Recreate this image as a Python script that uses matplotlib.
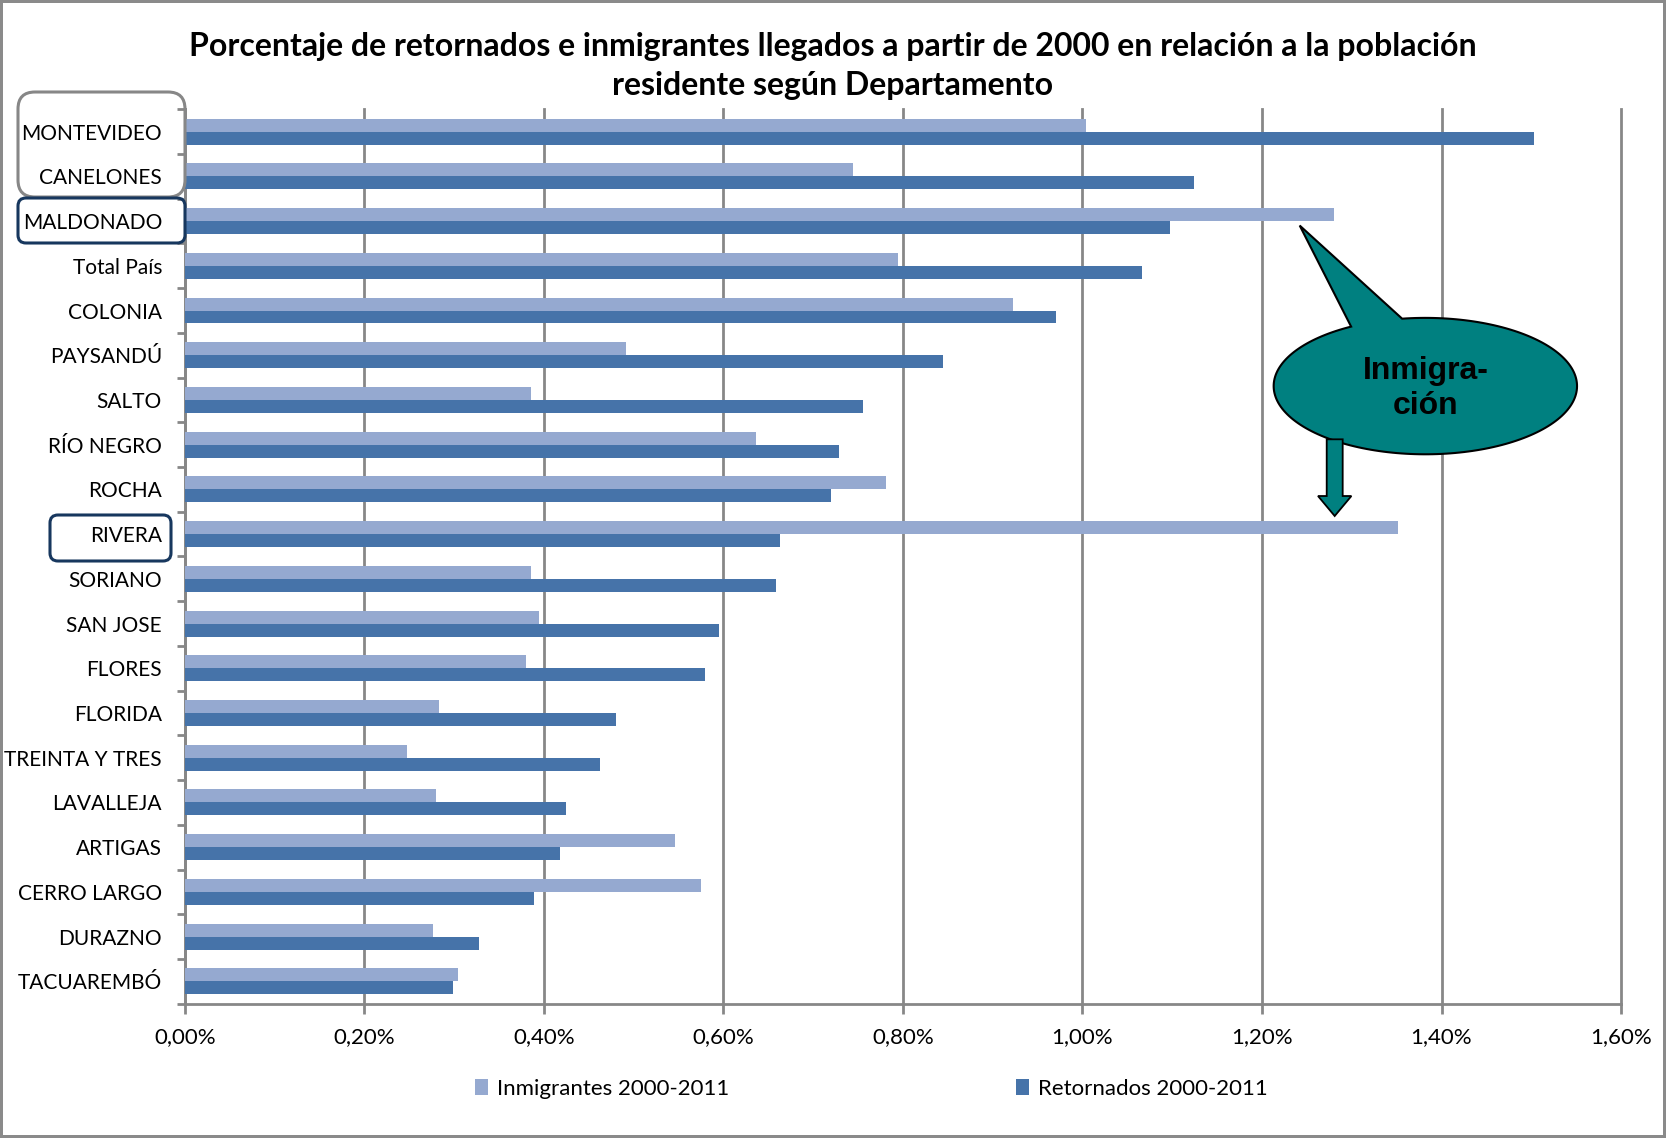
import numpy as np
import matplotlib
matplotlib.use('Agg')
import matplotlib.pyplot as plt
from matplotlib.patches import Polygon, FancyArrow, FancyBboxPatch
from matplotlib.ticker import FuncFormatter, MultipleLocator

# Datos (porcentaje sobre la población residente)
departamentos = ['MONTEVIDEO', 'CANELONES', 'MALDONADO', 'Total País', 'COLONIA',
                 'PAYSANDÚ', 'SALTO', 'RÍO NEGRO', 'ROCHA', 'RIVERA', 'SORIANO',
                 'SAN JOSE', 'FLORES', 'FLORIDA', 'TREINTA Y TRES', 'LAVALLEJA',
                 'ARTIGAS', 'CERRO LARGO', 'DURAZNO', 'TACUAREMBÓ']
inmigrantes = [1.004, 0.744, 1.280, 0.795, 0.923, 0.491, 0.386, 0.636, 0.781, 1.351,
               0.386, 0.394, 0.380, 0.283, 0.247, 0.280, 0.546, 0.575, 0.276, 0.304]
retornados = [1.503, 1.124, 1.098, 1.066, 0.970, 0.845, 0.755, 0.729, 0.720, 0.663,
              0.659, 0.595, 0.579, 0.480, 0.463, 0.425, 0.418, 0.389, 0.328, 0.299]

plt.rcParams['font.family'] = ['Lato', 'DejaVu Sans']

c_inm = '#95A9D0'
c_ret = '#4673A9'
gris = '#878787'
azul = '#17375E'
teal = '#008080'

W, H = 1666, 1138
fig = plt.figure(figsize=(W / 100, H / 100), dpi=100)
fig.patch.set_edgecolor('#8a8a8a')
fig.patch.set_linewidth(3)
ax = fig.add_axes([0.111, 0.118, 0.862, 0.786])

y = np.arange(len(departamentos))
h = 0.29
ax.barh(y - h / 2, inmigrantes, height=h, color=c_inm, label='Inmigrantes 2000-2011', zorder=3)
ax.barh(y + h / 2, retornados, height=h, color=c_ret, label='Retornados 2000-2011', zorder=3)

ax.set_xlim(0, 1.6)
ax.set_ylim(len(departamentos) - 0.5, -0.5)
ax.xaxis.set_major_locator(MultipleLocator(0.2))
ax.xaxis.set_major_formatter(FuncFormatter(lambda v, p: f'{v:.2f}%'.replace('.', ',')))
ax.grid(axis='x', color=gris, linewidth=2, zorder=0)
ax.set_axisbelow(True)
for gl in ax.get_xgridlines():
    gl.set_clip_on(False)

ax.set_yticks(y)
ax.set_yticklabels(departamentos)
ax.set_yticks(np.arange(len(departamentos) + 1) - 0.5, minor=True)
ax.tick_params(axis='y', which='major', length=0, pad=16.5, labelsize=15)
ax.tick_params(axis='y', which='minor', length=6, width=2, color=gris)
ax.tick_params(axis='x', length=7, width=2, color=gris, pad=10, labelsize=16)

for s in ['top', 'right']:
    ax.spines[s].set_visible(False)
for s in ['left', 'bottom']:
    ax.spines[s].set_color(gris)
    ax.spines[s].set_linewidth(2)

fig.text(0.5, 1 - 66 / H,
         'Porcentaje de retornados e inmigrantes llegados a partir de 2000 en relación a la población\nresidente según Departamento',
         ha='center', va='center', fontsize=23, fontweight='bold', linespacing=1.42)

ax.legend(loc='center', bbox_to_anchor=(0.478, -0.095), ncol=2, frameon=False,
          fontsize=16, handlelength=0.6, handleheight=0.7, handletextpad=0.4,
          columnspacing=12.9)

# Recuadros en las etiquetas (coordenadas de figura en píxeles)
def caja(x0, y0, x1, y1, col, r):
    p = FancyBboxPatch((x0 / W, 1 - y1 / H), (x1 - x0) / W, (y1 - y0) / H,
                       boxstyle=f'round,pad=0,rounding_size={r / W}',
                       mutation_aspect=W / H, transform=fig.transFigure,
                       fill=False, edgecolor=col, linewidth=2.2)
    fig.patches.append(p)

caja(18, 92, 185, 197, gris, 17)
caja(18, 198, 185, 243, azul, 8)
caja(50, 515, 171, 561, azul, 8)

# Globo "Inmigración": elipse + cola en un solo contorno
cx, cy, a, b = 1.382, 5.69, 0.169, 1.525
t1, t2 = np.deg2rad(98.8), np.deg2rad(119.3)
tt = np.linspace(t1, t2 - 2 * np.pi, 200)
pts = np.column_stack([cx + a * np.cos(tt), cy - b * np.sin(tt)])
pts = np.vstack([pts, [[1.242, 2.1]]])
ax.add_patch(Polygon(pts, closed=True, facecolor=teal, edgecolor='black',
                     linewidth=1.5, zorder=6, clip_on=False))
ax.text(cx, 5.74, 'Inmigra-\nción', ha='center', va='center', fontsize=23,
        fontweight='bold', family=['Liberation Sans'], zorder=8, linespacing=1.22)

ax.add_patch(FancyArrow(1.281, 6.88, 0, 1.715, width=0.0178, head_width=0.0372,
                        head_length=0.447, length_includes_head=True,
                        facecolor=teal, edgecolor='black', linewidth=1.3, zorder=7))

fig.savefig('out.png', dpi=100)
